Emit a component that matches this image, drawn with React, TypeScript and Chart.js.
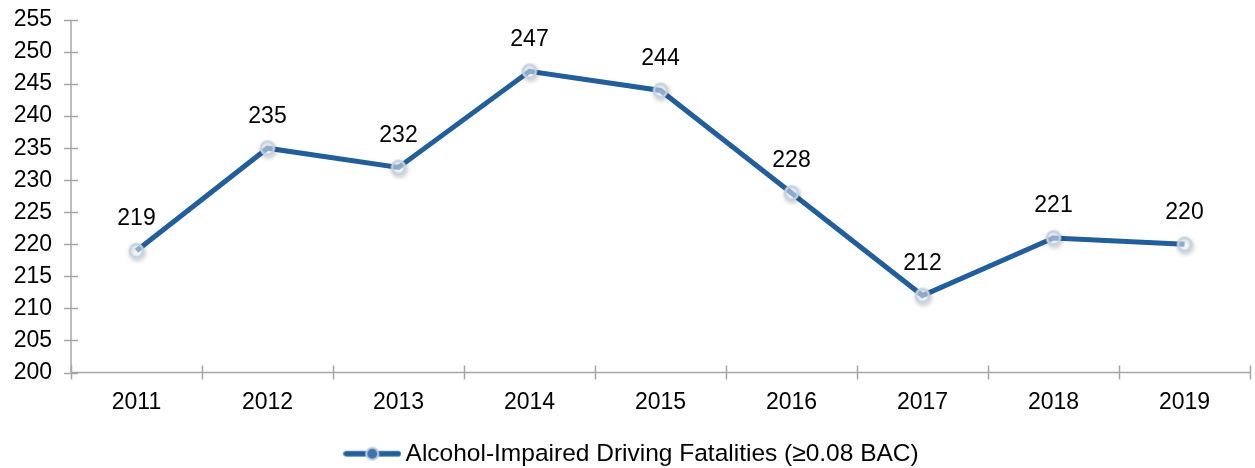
import React, { useEffect, useRef } from "react";
import { Chart, registerables } from "chart.js";

Chart.register(...registerables);

const years = ["2011", "2012", "2013", "2014", "2015", "2016", "2017", "2018", "2019"];
const fatalities = [219, 235, 232, 247, 244, 228, 212, 221, 220];
const seriesLabel = "Alcohol-Impaired Driving Fatalities (\u22650.08 BAC)";
const yMin = 200;
const yMax = 255;
const yStep = 5;

const LINE_COLOR = "#215E9B";
const AXIS_COLOR = "#A6A6A6";
const FONT = "'Liberation Sans', Arial, sans-serif";

function makeMarker(): HTMLCanvasElement {
  const c = document.createElement("canvas");
  c.width = 26;
  c.height = 26;
  const ctx = c.getContext("2d")!;
  const cx = 13, cy = 13, r = 6.5;
  ctx.save();
  ctx.shadowColor = "rgba(0,0,0,0.35)";
  ctx.shadowBlur = 4;
  ctx.shadowOffsetX = 1;
  ctx.shadowOffsetY = 2;
  ctx.beginPath();
  ctx.arc(cx, cy, r, 0, Math.PI * 2);
  ctx.lineWidth = 2.5;
  ctx.strokeStyle = "#C3D2E3";
  ctx.stroke();
  ctx.restore();
  ctx.beginPath();
  ctx.arc(cx, cy, r - 1.2, 0, Math.PI * 2);
  ctx.fillStyle = "rgba(235,240,247,0.55)";
  ctx.fill();
  return c;
}

function makeLegendIcon(): HTMLCanvasElement {
  const c = document.createElement("canvas");
  c.width = 58;
  c.height = 18;
  const ctx = c.getContext("2d")!;
  ctx.beginPath();
  ctx.moveTo(3, 9);
  ctx.lineTo(55, 9);
  ctx.lineWidth = 5.5;
  ctx.lineCap = "round";
  ctx.strokeStyle = LINE_COLOR;
  ctx.stroke();
  ctx.beginPath();
  ctx.arc(29, 9, 6, 0, Math.PI * 2);
  ctx.fillStyle = "#3F73AA";
  ctx.fill();
  ctx.lineWidth = 2;
  ctx.strokeStyle = "#C3D2E3";
  ctx.stroke();
  return c;
}

const tickMarksPlugin = {
  id: "crossTicks",
  afterDraw(chart: any) {
    const ctx = chart.ctx;
    const x = chart.scales.x;
    const y = chart.scales.y;
    const area = chart.chartArea;
    ctx.save();
    ctx.strokeStyle = AXIS_COLOR;
    ctx.lineWidth = 1.5;
    ctx.beginPath();
    ctx.moveTo(area.left, area.top);
    ctx.lineTo(area.left, area.bottom);
    y.ticks.forEach((_t: any, i: number) => {
      const py = Math.round(y.getPixelForTick(i)) + 0.5;
      ctx.moveTo(area.left - 7, py);
      ctx.lineTo(area.left + 7, py);
    });
    ctx.moveTo(area.left, area.bottom);
    ctx.lineTo(area.right, area.bottom);
    const n = years.length;
    for (let i = 0; i <= n; i++) {
      const px = Math.round(x.left + (x.width * i) / n) + 0.5;
      ctx.moveTo(px, area.bottom - 7);
      ctx.lineTo(px, area.bottom + 7);
    }
    ctx.stroke();
    ctx.restore();
  },
};

const dataLabelPlugin = {
  id: "valueLabels",
  afterDatasetsDraw(chart: any) {
    const ctx = chart.ctx;
    const meta = chart.getDatasetMeta(0);
    ctx.save();
    ctx.font = `23px ${FONT}`;
    ctx.fillStyle = "#000";
    ctx.textAlign = "center";
    ctx.textBaseline = "middle";
    meta.data.forEach((pt: any, i: number) => {
      ctx.fillText(String(fatalities[i]), pt.x, pt.y - 32);
    });
    ctx.restore();
  },
};

export default function App() {
  const ref = useRef<HTMLCanvasElement>(null);
  useEffect(() => {
    document.body.style.margin = "0";
    document.body.style.overflow = "hidden";
    const marker = makeMarker();
    const legendIcon = makeLegendIcon();
    const chart = new Chart(ref.current!, {
      type: "line",
      data: {
        labels: years,
        datasets: [
          {
            label: seriesLabel,
            data: fatalities,
            borderColor: LINE_COLOR,
            backgroundColor: LINE_COLOR,
            borderWidth: 5,
            pointStyle: marker as any,
            pointRadius: 8,
            pointHoverRadius: 8,
            tension: 0,
          },
        ],
      },
      options: {
        responsive: false,
        animation: false,
        layout: { padding: { left: 12, right: 5, top: 20, bottom: -8 } },
        plugins: {
          tooltip: { enabled: false },
          legend: {
            position: "bottom",
            labels: {
              usePointStyle: true,
              pointStyle: legendIcon as any,
              pointStyleWidth: 42,
              color: "#000",
              font: { family: FONT, size: 24.5 },
              padding: 2,
            },
          },
        },
        scales: {
          x: {
            offset: true,
            grid: { display: false, drawTicks: false },
            border: { display: false },
            ticks: {
              color: "#000",
              font: { family: FONT, size: 23 },
              padding: 16,
              maxRotation: 0,
              autoSkip: false,
            },
            afterFit(scale: any) {
              scale.height = 67;
              scale.paddingLeft = 0;
              scale.paddingRight = 0;
            },
          },
          y: {
            min: yMin,
            max: yMax,
            grid: { display: false, drawTicks: false },
            border: { display: false },
            ticks: {
              stepSize: yStep,
              color: "#000",
              font: { family: FONT, size: 23 },
              padding: 19,
              autoSkip: false,
            },
            afterFit(scale: any) {
              scale.width = 59;
              scale.paddingTop = 0;
              scale.paddingBottom = 0;
            },
          },
        },
      },
      plugins: [tickMarksPlugin, dataLabelPlugin],
    });
    return () => chart.destroy();
  }, []);
  return (
    <div style={{ width: 1255, height: 468, overflow: "hidden" }}>
      <canvas ref={ref} width={1263} height={468} style={{ display: "block" }} />
    </div>
  );
}
